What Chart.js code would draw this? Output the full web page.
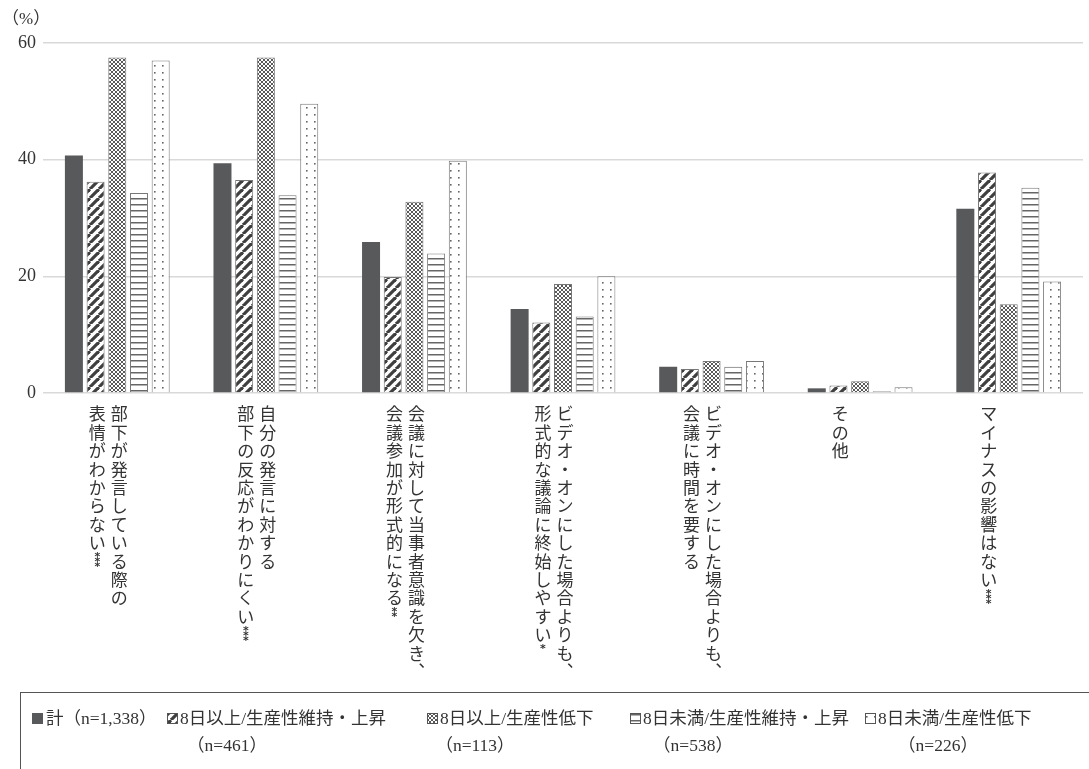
<!DOCTYPE html>
<html>
<head>
<meta charset="utf-8">
<script src="https://cdn.jsdelivr.net/npm/chart.js@4.4.1/dist/chart.umd.min.js"></script>
<style>
  html, body { margin: 0; padding: 0; background: #fff; }
  #wrap { width: 1089px; height: 769px; }
</style>
</head>
<body>
<div id="wrap"><canvas id="chart"></canvas></div>
<script>
// categories: each entry is the list of vertical columns, rightmost first
var categories = [
  ['部下が発言している際の', '表情がわからない***'],
  ['自分の発言に対する', '部下の反応がわかりにくい***'],
  ['会議に対して当事者意識を欠き、', '会議参加が形式的になる**'],
  ['ビデオ・オンにした場合よりも、', '形式的な議論に終始しやすい*'],
  ['ビデオ・オンにした場合よりも、', '会議に時間を要する'],
  ['その他'],
  ['マイナスの影響はない***']
];

var seriesNames = ['計', '8日以上/生産性維持・上昇', '8日以上/生産性低下', '8日未満/生産性維持・上昇', '8日未満/生産性低下'];
var seriesN = ['（n=1,338）', '（n=461）', '（n=113）', '（n=538）', '（n=226）'];

var total      = [40.7, 39.4, 25.9, 14.4, 4.5, 0.8, 31.6];
var over8Keep  = [36.2, 36.5, 19.9, 12.1, 4.1, 1.3, 37.8];
var over8Down  = [57.5, 57.5, 32.8, 18.7, 5.5, 2.0, 15.2];
var under8Keep = [34.3, 33.9, 23.9, 13.1, 4.5, 0.3, 35.2];
var under8Down = [57.0, 49.6, 39.8, 20.0, 5.5, 1.0, 19.1];

var yTicks = [0, 20, 40, 60];

var JP = '"Noto Sans CJK JP"';
var SERIF = '"Liberation Serif", "Noto Sans CJK JP"';

function makePattern(w, h, draw) {
  var c = document.createElement('canvas');
  c.width = w; c.height = h;
  var g = c.getContext('2d');
  g.fillStyle = '#fff';
  g.fillRect(0, 0, w, h);
  draw(g, w, h);
  return g.createPattern(c, 'repeat');
}

var diagPattern = makePattern(9, 9, function (g, w, h) {
  g.strokeStyle = '#3f3f3f';
  g.lineWidth = 3.2;
  [-w, 0, w].forEach(function (o) {
    g.beginPath(); g.moveTo(o, h); g.lineTo(o + w, 0); g.stroke();
  });
});
var meshPattern = makePattern(4, 4, function (g, w, h) {
  g.strokeStyle = '#5a5a5a';
  g.lineWidth = 1;
  g.beginPath(); g.moveTo(0, 0); g.lineTo(w, h); g.stroke();
  g.beginPath(); g.moveTo(w, 0); g.lineTo(0, h); g.stroke();
});
var hlinePattern = makePattern(6, 6, function (g, w) {
  g.fillStyle = '#666';
  g.fillRect(0, 0, w, 1.5);
});
var dotPattern = makePattern(8, 7, function (g) {
  g.fillStyle = '#666';
  g.fillRect(2, 2, 1.6, 1.6);
});

var fills = ['#58595b', diagPattern, meshPattern, hlinePattern, dotPattern];
var values = [total, over8Keep, over8Down, under8Keep, under8Down];

var datasets = values.map(function (v, i) {
  return {
    label: seriesNames[i],
    data: v,
    backgroundColor: fills[i],
    borderColor: i === 0 ? '#58595b' : '#777',
    borderWidth: i === 0 ? 0 : 1,
    categoryPercentage: 0.73,
    barPercentage: 0.83
  };
});

// draws the category names as upright vertical Japanese text
var verticalLabels = {
  id: 'verticalLabels',
  afterDraw: function (chart) {
    var ctx = chart.ctx, xs = chart.scales.x;
    ctx.save();
    ctx.fillStyle = '#333';
    ctx.textAlign = 'center';
    ctx.textBaseline = 'middle';
    categories.forEach(function (cols, i) {
      var cx = xs.getPixelForValue(i);
      var n = cols.length;
      cols.forEach(function (col, k) {
        var px = cx - 20 + (n - 1 - k) * 22;
        var py = 414;
        var inStars = false;
        for (var ch of col) {
          if (ch === '*') {
            if (!inStars) { py -= 6; inStars = true; }
            ctx.font = 'bold 11px "DejaVu Sans"';
            ctx.fillText('*', px, py + 2);
            py += 5;
            continue;
          }
          ctx.font = '17px ' + JP;
          ctx.fillText(ch === '、' ? '︑' : ch, px, py);
          py += 18.4;
        }
      });
    });
    ctx.restore();
  }
};

// unit label and the boxed legend at the bottom
var extras = {
  id: 'extras',
  afterDraw: function (chart) {
    var ctx = chart.ctx;
    ctx.save();
    ctx.fillStyle = '#333';
    ctx.font = '17px ' + SERIF;
    ctx.textBaseline = 'middle';
    ctx.textAlign = 'left';
    ctx.fillText('（%）', 2, 20);

    ctx.strokeStyle = '#555';
    ctx.lineWidth = 1;
    ctx.strokeRect(20.5, 692.5, 1100, 120);

    var itemX = [32, 167, 427, 630, 865];
    var line2X = [0, 227, 475, 693, 938];
    chart.data.datasets.forEach(function (ds, i) {
      var x = itemX[i];
      ctx.fillStyle = ds.backgroundColor;
      ctx.fillRect(x, 713, 11, 11);
      if (i > 0) {
        ctx.strokeStyle = '#555';
        ctx.strokeRect(x + 0.5, 713.5, 10, 10);
      }
      ctx.fillStyle = '#333';
      ctx.font = '17.5px ' + SERIF;
      ctx.textAlign = 'left';
      if (i === 0) {
        ctx.fillText(seriesNames[i] + seriesN[i], x + 14, 719);
      } else {
        ctx.fillText(seriesNames[i], x + 13, 719);
        ctx.textAlign = 'center';
        ctx.fillText(seriesN[i], line2X[i], 746);
      }
    });
    ctx.restore();
  }
};

new Chart(document.getElementById('chart'), {
  type: 'bar',
  data: {
    labels: categories.map(function (c) { return c.join(''); }),
    datasets: datasets
  },
  options: {
    responsive: true,
    maintainAspectRatio: false,
    animation: false,
    layout: { padding: { left: 8, right: 6, top: 43, bottom: 376 } },
    plugins: {
      legend: { display: false },
      tooltip: { enabled: false },
      title: { display: false }
    },
    scales: {
      x: {
        display: false
      },
      y: {
        min: 0,
        max: 60,
        afterFit: function (s) { s.width = 35; },
        afterBuildTicks: function (s) {
          s.ticks = yTicks.map(function (v) { return { value: v }; });
        },
        border: { display: false },
        grid: { color: '#d9d9d9', lineWidth: 1.5, drawTicks: false },
        ticks: {
          color: '#333',
          padding: 7,
          font: { family: SERIF, size: 18 }
        }
      }
    }
  },
  plugins: [verticalLabels, extras]
});
</script>
</body>
</html>
